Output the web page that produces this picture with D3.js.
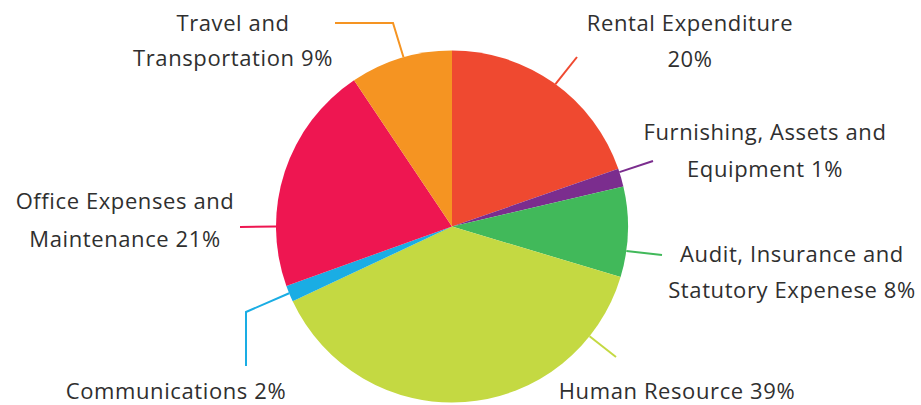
<!DOCTYPE html>
<html>
<head>
<meta charset="utf-8">
<script src="https://cdn.jsdelivr.net/npm/d3@7"></script>
<style>
  html, body { margin: 0; padding: 0; background: #fff; }
  svg { display: block; }
  text { font-family: "Open Sans", sans-serif; fill: #2f2f2f; }
</style>
</head>
<body>
<svg id="chart" width="921" height="405"></svg>
<script>
// Data (clockwise from 12 o'clock)
const categories = ["Rental Expenditure", "Furnishing, Assets and Equipment", "Audit, Insurance and Statutory Expenese", "Human Resource", "Communications", "Office Expenses and Maintenance", "Travel and Transportation"];
const shares = [19.7, 1.65, 8.3, 38.4, 1.5, 21.1, 9.4]; // slice sizes
const percentLabels = ["20%", "1%", "8%", "39%", "2%", "21%", "9%"];
const labelLines = [
  ["Rental Expenditure", "20%"],
  ["Furnishing, Assets and", "Equipment 1%"],
  ["Audit, Insurance and", "Statutory Expenese 8%"],
  ["Human Resource 39%"],
  ["Communications 2%"],
  ["Office Expenses and", "Maintenance 21%"],
  ["Travel and", "Transportation 9%"]
];
const colors = ["#EF4930", "#7B2D8E", "#41B95A", "#C4D942", "#1AADE4", "#EE1651", "#F59422"];

// Layout
const cx = 452, cy = 226.5, r = 176;
const layout = [
  { a: 36,    pts: [[577, 57]],            x: 690, y: [31, 67] },
  { a: 72,    pts: [[653, 161]],           x: 765, y: [140, 177] },
  { a: 98,    pts: [[662, 255]],           x: 792, y: [262, 298] },
  { a: 128.6, pts: [[616, 357]],           x: 677, y: [399] },
  { a: 247.7, pts: [[246, 312], [246, 366]], x: 176, y: [399] },
  { a: 270,   pts: [[240, 227]],           x: 125, y: [209, 247] },
  { a: 344,   pts: [[393, 23], [335, 23]], x: 233, y: [31, 66] }
];

const svg = d3.select("#chart");
const g = svg.append("g").attr("transform", `translate(${cx},${cy})`);

const pie = d3.pie().sort(null).value(d => d)(shares);
const arc = d3.arc().innerRadius(0).outerRadius(r);

g.selectAll("path.slice").data(pie).join("path")
  .attr("class", "slice")
  .attr("d", arc)
  .attr("fill", (d, i) => colors[i]);

// leader lines and labels
const line = d3.line();
layout.forEach((L, i) => {
  const ang = L.a * Math.PI / 180;
  const start = [cx + r * Math.sin(ang), cy - r * Math.cos(ang)];
  svg.append("path")
    .attr("d", line([start, ...L.pts]))
    .attr("fill", "none")
    .attr("stroke", colors[i])
    .attr("stroke-width", 2);
  labelLines[i].forEach((t, j) => {
    svg.append("text")
      .attr("x", L.x)
      .attr("y", L.y[j])
      .attr("text-anchor", "middle")
      .attr("font-size", 22)
      .attr("letter-spacing", 0.6)
      .text(t);
  });
});
</script>
</body>
</html>
